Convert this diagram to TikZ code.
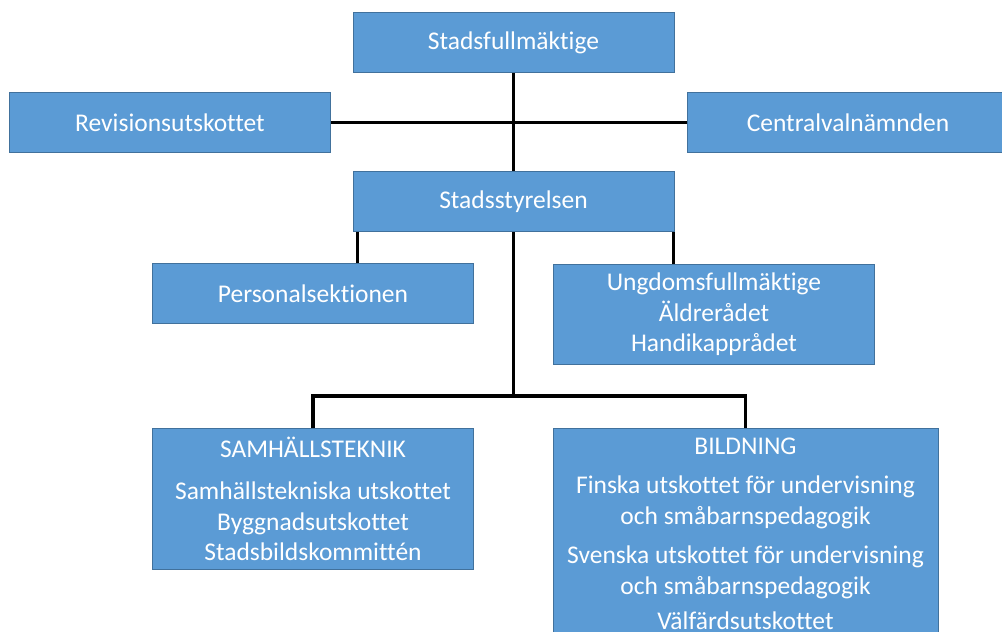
\documentclass[tikz,border=0pt]{standalone}
\usepackage{fontspec}
\setmainfont{Carlito}[Ligatures=NoCommon]
\usetikzlibrary{positioning}
\definecolor{orgfill}{HTML}{5B9BD5}
\definecolor{orgline}{HTML}{41719C}
\tikzset{
  orgbox/.style={draw=orgline, fill=orgfill, text=white, line width=1pt,
    inner sep=0pt, minimum width=321pt, minimum height=60pt, align=center,
    font=\fontsize{25.5}{30.5}\selectfont},
  link/.style={line width=3.5pt, black}
}

\begin{document}
\begin{tikzpicture}[x=1pt,y=-1pt]
  \useasboundingbox (0,0) rectangle (1002,632);
  \clip (0,0) rectangle (1002,632);

  \coordinate (p1) at (513.5,42.5) {};
  \coordinate (p2) at (170,122.5) {};
  \coordinate (p3) at (848,122.5) {};
  \coordinate (p4) at (513.5,201.5) {};
  \coordinate (p5) at (313,293.5) {};
  \coordinate (p6) at (714,314.5) {};
  \coordinate (p7) at (313,428) {};
  \coordinate (p8) at (745.5,428) {};

  \node[orgbox] (fullm) at (p1) {Stadsfullmäktige};
  \node[orgbox] (revis) at (p2) {Revisionsutskottet};
  \node[orgbox] (valn) at (p3) {Centralvalnämnden};
  \node[orgbox] (styr) at (p4) {Stadsstyrelsen};
  \node[orgbox] (pers) at (p5) {Personalsektionen};
  \node[orgbox, minimum height=100pt] (rad) at (p6)
    {Ungdomsfullmäktige\\Äldrerådet\\Handikapprådet};
  \node[orgbox, anchor=north, minimum height=141pt] (samh) at (p7)
    {SAMHÄLLSTEKNIK\\[12pt]Samhällstekniska utskottet\\Byggnadsutskottet\\Stadsbildskommittén};
  \node[orgbox, anchor=north, minimum width=385pt, inner ysep=9pt] (bild) at (p8)
    {BILDNING\\[9pt]Finska utskottet för undervisning\\och småbarnspedagogik\\[9pt]Svenska utskottet för undervisning\\och småbarnspedagogik\\[5pt]Välfärdsutskottet\\[20pt]};

  \coordinate (fork) at (styr.south |- 0,396);

  \draw[link] (fullm) -- (styr);
  \draw[link] (revis) -- (valn);
  \draw[link] ([xshift=5pt]styr.south west) -- ([xshift=5pt]styr.south west |- pers.north);
  \draw[link] ([xshift=-1pt]styr.south east) -- ([xshift=-1pt]styr.south east |- rad.north);
  \draw[link] (styr.south) -- (fork);
  \draw[link] (samh.north) |- (fork) -| (bild.north);
\end{tikzpicture}
\end{document}
